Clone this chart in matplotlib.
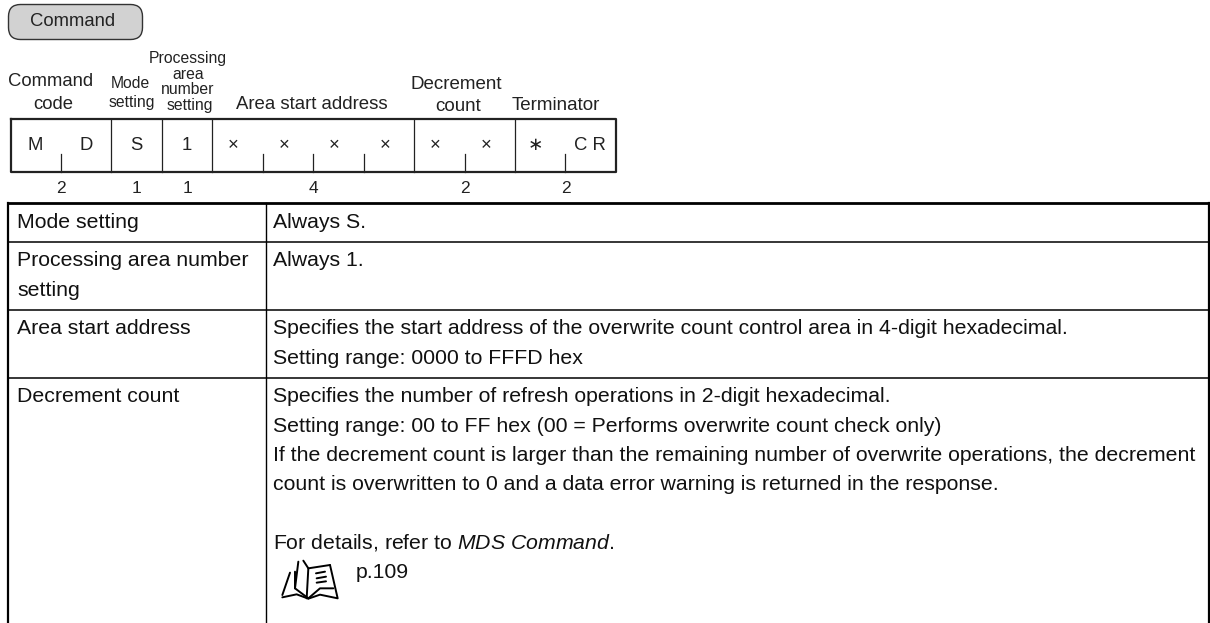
import matplotlib
matplotlib.use("Agg")
import matplotlib.pyplot as plt
from matplotlib.patches import FancyBboxPatch

W, H = 1210, 623
plt.rcParams['font.family'] = ['Liberation Sans', 'DejaVu Sans']
plt.rcParams['mathtext.fontset'] = 'custom'
plt.rcParams['mathtext.it'] = 'Liberation Sans:italic'
plt.rcParams['mathtext.rm'] = 'Liberation Sans'

title = "Command"
cell_values = ["M", "D", "S", "1", "×", "×", "×", "×", "×", "×", "∗", "C R"]
cell_offsets = [-0.5, 0, 0, 0, -4, -4, -4, -4, -4, -4, -5, 0]
field_sizes = [2, 1, 1, 4, 2, 2]
field_labels = [
    [("Command", 51, 86), ("code", 53, 109)],
    [("Mode", 130, 88), ("setting", 132, 107)],
    [("Processing", 188, 63), ("area", 188, 79), ("number", 188, 94), ("setting", 190, 110)],
    [("Area start address", 312, 109)],
    [("Decrement", 456, 89), ("count", 458, 111)],
    [("Terminator", 556, 110)],
]
field_fonts = [13.3, 11.3, 11.3, 13.4, 13.5, 13.5]
row_labels = [["Mode setting"], ["Processing area number", "setting"], ["Area start address"], ["Decrement count"]]
row_lines = [
    ["Always S."],
    ["Always 1."],
    ["Specifies the start address of the overwrite count control area in 4-digit hexadecimal.",
     "Setting range: 0000 to FFFD hex"],
    ["Specifies the number of refresh operations in 2-digit hexadecimal.",
     "Setting range: 00 to FF hex (00 = Performs overwrite count check only)",
     "If the decrement count is larger than the remaining number of overwrite operations, the decrement",
     "count is overwritten to 0 and a data error warning is returned in the response.",
     "",
     "For details, refer to $\\mathit{MDS\\ Command}$."],
]
row_edges = [203, 242, 310, 378, 623]
page_ref = "p.109"

fig = plt.figure(figsize=(W / 100, H / 100), dpi=100)
ax = fig.add_axes([0, 0, 1, 1])
ax.set_xlim(0, W)
ax.set_ylim(H, 0)
ax.axis("off")
DK = "#222222"
FS = 15.3

ax.add_patch(FancyBboxPatch((8.5, 4.5), 134, 35, boxstyle="round,pad=0,rounding_size=12",
                            fc="#d2d2d2", ec="#333333", lw=1.0))
ax.text(73, 26, title, ha="center", va="baseline", fontsize=13.3, color=DK)

# command frame
x0, cw = 10.5, 50.45
top, bot = 118.5, 172
ax.plot([x0, x0 + 12 * cw, x0 + 12 * cw, x0, x0], [top, top, bot, bot, top], color=DK, lw=1.6)
i = 0
for size, labels, fs in zip(field_sizes, field_labels, field_fonts):
    if i:
        ax.plot([x0 + i * cw] * 2, [top, bot], color=DK, lw=0.9)
    for j in range(1, size):
        ax.plot([x0 + (i + j) * cw] * 2, [154, bot], color=DK, lw=0.9)
    xc = x0 + (i + size / 2) * cw
    ax.text(xc, 193, str(size), ha="center", va="baseline", fontsize=12.5, color=DK)
    for txt, lx, ly in labels:
        ax.text(lx, ly, txt, ha="center", va="baseline", fontsize=fs, color=DK)
    i += size
for k, (val, off) in enumerate(zip(cell_values, cell_offsets)):
    xc = x0 + (k + 0.5) * cw + off
    if val == "C R":
        ax.text(606, 150, val, ha="right", va="baseline", fontsize=13.3, color=DK)
    else:
        ax.text(xc, 150, val, ha="center", va="baseline", fontsize=13.3, color=DK)

# table
tx0, tx1, tx2 = 8, 265.5, 1209
ax.plot([tx0, tx2], [row_edges[0]] * 2, color="black", lw=2.0)
for y in row_edges[1:-1]:
    ax.plot([tx0, tx2], [y, y], color="black", lw=1.1)
ax.plot([tx0, tx0], [row_edges[0], H], color="black", lw=1.6)
ax.plot([tx1, tx1], [row_edges[0], H], color="black", lw=1.0)
ax.plot([tx2, tx2], [row_edges[0], H], color="black", lw=1.6)
pitch = 29.2
for r, (labs, lines) in enumerate(zip(row_labels, row_lines)):
    y = row_edges[r] + 24.5
    for n, lab in enumerate(labs):
        ax.text(17, y + n * pitch, lab, ha="left", va="baseline", fontsize=FS, color="#111111")
    for n, line in enumerate(lines):
        ax.text(273, y + n * pitch, line, ha="left", va="baseline", fontsize=FS, color="#111111")
ax.text(356, 578, page_ref, ha="left", va="baseline", fontsize=FS, color="#111111")

# book icon, traced in the reference's zoomed crop and scaled to pixels
book = [
    [(127, 195), (150, 128)],
    [(127, 202), (170, 193), (205, 206), (240, 194), (293, 205), (270, 105)],
    [(165, 125), (165, 175), (205, 205)],
    [(190, 92), (205, 115), (200, 205)],
    [(205, 115), (270, 105)],
    [(175, 95), (165, 175)],
    [(205, 205), (240, 175), (280, 175)],
    [(228, 130), (255, 125)],
    [(230, 145), (258, 140)],
    [(230, 158), (258, 154)],
]
for seg in book:
    bx = [240 + p[0] / 3 for p in seg]
    by = [530 + p[1] / 3 for p in seg]
    ax.plot(bx, by, color="black", lw=1.4, solid_capstyle="round", solid_joinstyle="round")

fig.savefig("out.png", dpi=100)
